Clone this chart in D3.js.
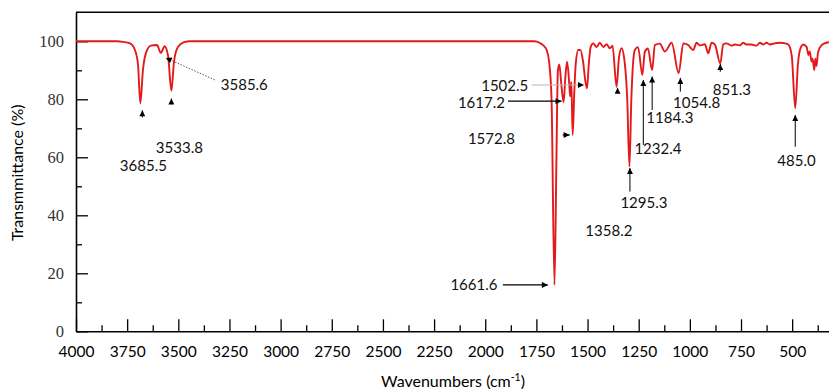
<!DOCTYPE html>
<html>
<head>
<meta charset="utf-8">
<script src="https://cdn.jsdelivr.net/npm/d3@7"></script>
<style>
  body { margin: 0; background: #fff; }
  svg { display: block; }
</style>
</head>
<body>
<svg id="chart" width="829" height="389"></svg>
<script>
// IR spectrum: wavenumber (cm-1) and transmittance (%)
const wavenumbers = [
  4000, 3800, 3770, 3736, 3712, 3697, 3685.5, 3673, 3658, 3634, 3604, 3585.6, 3567, 3550, 3533.8, 3521, 3502, 3472, 3443,
  1760, 1735, 1715, 1700, 1688, 1676, 1661.6, 1652, 1645, 1638, 1628, 1617.2, 1608, 1600, 1590, 1585, 1579, 1572.8,
  1565, 1558, 1545, 1535, 1522, 1510, 1502.5, 1494, 1485, 1472, 1456, 1440, 1423, 1407, 1391, 1378, 1358.2, 1347,
  1334, 1318, 1306, 1295.3, 1286, 1278, 1269, 1253, 1232.4, 1220, 1205, 1184.3, 1171, 1147, 1122, 1089, 1054.8,
  1032, 1008, 984, 967, 951, 927, 910, 894, 878, 851.3, 837, 821, 796, 780, 756, 740, 723, 699, 674, 658, 641,
  625, 609, 592, 560, 535, 519, 502, 485.0, 472, 462, 446, 429, 421, 414, 405, 400, 392, 387, 381, 374, 356, 332, 320
];
const transmittance = [
  100, 100, 99.8, 99.3, 97, 92, 78.6, 90, 96, 98.5, 98.7, 96, 98.3, 95, 83, 93, 98, 99.7, 100,
  100, 99.5, 98.5, 97, 93, 80, 16, 60, 90, 92, 85, 79, 88, 93, 86, 81, 86, 67.7,
  82, 92, 97, 97, 93, 86, 83.8, 92, 98, 99.3, 98, 99.5, 98, 99, 97.6, 98.5, 84.3, 94,
  97.6, 92.4, 80, 56.8, 80, 92, 97, 98, 88.4, 96.4, 97.5, 90.1, 98.7, 99.2, 96.5, 99.5, 89,
  99.3, 98.7, 97, 99.5, 98.6, 99, 95.9, 99.5, 98.9, 92.4, 98.9, 99.3, 98.5, 98.9, 98.6, 99.5, 98.9, 98.9, 98.5, 99.5, 98.9,
  99.5, 98.9, 99.2, 99.5, 99.3, 98.9, 95, 76.9, 92, 97, 98.9, 98, 95.3, 96.5, 93, 94, 90.1, 94, 91.5, 96, 98.7, 99.5, 99.7
];

// Axis ticks
const xTicks = [4000, 3750, 3500, 3250, 3000, 2750, 2500, 2250, 2000, 1750, 1500, 1250, 1000, 750, 500];
const xMinorTicks = [3875, 3625, 3375, 3125, 2875, 2625, 2375, 2125, 1875, 1625, 1375, 1125, 875, 625, 375];
const yTicks = [0, 20, 40, 60, 80, 100];
const yMinorTicks = [10, 30, 50, 70, 90];

// Labelled peaks (wavenumber, transmittance at the band minimum)
const peakWavenumbers = [3685.5, 3585.6, 3533.8, 1661.6, 1617.2, 1572.8, 1502.5, 1358.2, 1295.3, 1232.4, 1184.3, 1054.8, 851.3, 485.0];
const peakTransmittance = [78.6, 96, 83, 16, 79, 67.7, 83.8, 84.3, 56.8, 88.4, 90.1, 89, 92.4, 76.9];

// Callout layout, offsets in px from each band minimum
// kind: "up" = arrow from below, "left" = horizontal arrow from a label on the left, "lead" = dotted leader
const callouts = [
  { kind: "up",   ax: 2,  tip: 7,   tail: 14,  lx: 3,   ly: 68,  anchor: "middle" },
  { kind: "lead", x1: 54, y1: 27, x2: 5, y2: 5, lx: 60, ly: 37, anchor: "start" },
  { kind: "up",   ax: 0,  tip: 8,   tail: 13.5, lx: 8,  ly: 62.5, anchor: "middle" },
  { kind: "left", x1: -51.6, x2: -6.6, ay: 0,  lx: -57,  ly: 5,   anchor: "end", stroke: "#000" },
  { kind: "left", x1: -55.6, x2: -2,   ay: -1, lx: -58.6, ly: 6,  anchor: "end", stroke: "#000" },
  { kind: "left", x1: -10,   x2: -3,   ay: 0,  lx: -57.7, ly: 9,  anchor: "end", stroke: "#000" },
  { kind: "left", x1: -55.4, x2: -3.1, ay: -3.3, lx: -58.8, ly: 2.7, anchor: "end", stroke: "#b5b5b5" },
  { kind: "up",   ax: 1,  tip: 1,   tail: 6,   lx: -7.7, ly: 149, anchor: "middle" },
  { kind: "up",   ax: 0.5, tip: 1.5, tail: 25, lx: 14.5, ly: 41.4, anchor: "middle" },
  { kind: "up",   ax: 1,  tip: 5,   tail: 70,  lx: 15.6, ly: 79,  anchor: "middle" },
  { kind: "up",   ax: 0,  tip: 6.5, tail: 40,  lx: 17.7, ly: 52.8, anchor: "middle" },
  { kind: "up",   ax: 1.7, tip: 4.7, tail: 18.4, lx: 18, ly: 34.7, anchor: "middle" },
  { kind: "up",   ax: 0,  tip: 0.7, tail: 8.4, lx: 11.6, ly: 31.7, anchor: "middle" },
  { kind: "up",   ax: 0,  tip: 6.7, tail: 38.4, lx: 1.3, ly: 57.7, anchor: "middle" }
];

const svg = d3.select("#chart");
const plotLeft = 76, plotRight = 829, plotTop = 12.3, plotBottom = 331.3;

const x = d3.scaleLinear().domain([4000, 320]).range([plotLeft, plotRight]);
const y = d3.scaleLinear().domain([0, 110]).range([plotBottom, plotTop]);

const axisColor = "#000";
const axisWidth = 1.6;

// arrowhead marker
const defs = svg.append("defs");
defs.append("marker")
  .attr("id", "head")
  .attr("viewBox", "0 0 10 10")
  .attr("refX", 10).attr("refY", 5)
  .attr("markerWidth", 7).attr("markerHeight", 6)
  .attr("markerUnits", "userSpaceOnUse")
  .attr("orient", "auto")
  .append("path").attr("d", "M0,0 L10,5 L0,10 Z").attr("fill", "#000");

// x axis (ticks point into the plot)
const gx = svg.append("g").attr("transform", `translate(0,${plotBottom})`)
  .call(d3.axisBottom(x).tickValues(xTicks).tickSizeInner(-12).tickSizeOuter(0).tickPadding(15).tickFormat(d3.format("d")));
gx.select(".domain").attr("stroke", axisColor).attr("stroke-width", axisWidth);
gx.selectAll(".tick line").attr("stroke", axisColor).attr("stroke-width", 1.3);
gx.selectAll(".tick text")
  .attr("font-family", "Lato, 'Open Sans', sans-serif").attr("font-size", 15.5).attr("fill", "#000");

const gxm = svg.append("g").attr("transform", `translate(0,${plotBottom})`)
  .call(d3.axisBottom(x).tickValues(xMinorTicks).tickSizeInner(-6).tickSizeOuter(0).tickFormat(""));
gxm.select(".domain").remove();
gxm.selectAll(".tick line").attr("stroke", axisColor).attr("stroke-width", 1.3);

// y axis
const gy = svg.append("g").attr("transform", `translate(${plotLeft},0)`)
  .call(d3.axisLeft(y).tickValues(yTicks).tickSizeInner(-12).tickSizeOuter(0).tickPadding(12));
gy.select(".domain").attr("stroke", axisColor).attr("stroke-width", axisWidth);
gy.selectAll(".tick line").attr("stroke", axisColor).attr("stroke-width", 1.3);
gy.selectAll(".tick text")
  .attr("font-family", "'Liberation Serif', 'DejaVu Serif', serif").attr("font-size", 16.5).attr("fill", "#333");

const gym = svg.append("g").attr("transform", `translate(${plotLeft},0)`)
  .call(d3.axisLeft(y).tickValues(yMinorTicks).tickSizeInner(-6).tickSizeOuter(0).tickFormat(""));
gym.select(".domain").remove();
gym.selectAll(".tick line").attr("stroke", axisColor).attr("stroke-width", 1.3);

// top frame
svg.append("line")
  .attr("x1", plotLeft).attr("x2", plotRight).attr("y1", y(110)).attr("y2", y(110))
  .attr("stroke", axisColor).attr("stroke-width", axisWidth);

// spectrum
const spectrum = wavenumbers.map((w, i) => ({ w, t: transmittance[i] }));
const line = d3.line().x(d => x(d.w)).y(d => y(d.t)).curve(d3.curveMonotoneX);
svg.append("path")
  .datum(spectrum)
  .attr("d", line)
  .attr("fill", "none")
  .attr("stroke", "#e3191c")
  .attr("stroke-width", 1.9)
  .attr("stroke-linejoin", "round");

// peak callouts
const labelFont = "Lato, 'Open Sans', sans-serif";
peakWavenumbers.forEach((w, i) => {
  const c = callouts[i];
  const px = x(w), py = y(peakTransmittance[i]);
  const g = svg.append("g");
  if (c.kind === "up") {
    g.append("line")
      .attr("x1", px + c.ax).attr("x2", px + c.ax)
      .attr("y1", py + c.tail).attr("y2", py + c.tip)
      .attr("stroke", "#000").attr("stroke-width", 1)
      .attr("marker-end", "url(#head)");
  } else if (c.kind === "left") {
    g.append("line")
      .attr("x1", px + c.x1).attr("x2", px + c.x2)
      .attr("y1", py + c.ay).attr("y2", py + c.ay)
      .attr("stroke", c.stroke).attr("stroke-width", 1.2)
      .attr("marker-end", "url(#head)");
  } else {
    g.append("line")
      .attr("x1", px + c.x1).attr("y1", py + c.y1)
      .attr("x2", px + c.x2).attr("y2", py + c.y2)
      .attr("stroke", "#555").attr("stroke-width", 1)
      .attr("stroke-dasharray", "1.5,1.5")
      .attr("marker-end", "url(#head)");
  }
  g.append("text")
    .attr("x", px + c.lx).attr("y", py + c.ly)
    .attr("text-anchor", c.anchor)
    .attr("font-family", labelFont).attr("font-size", 15)
    .attr("fill", "#111")
    .text(d3.format(".1f")(w));
});

// axis titles
const xTitle = svg.append("text")
  .attr("x", 453).attr("y", 387)
  .attr("text-anchor", "middle")
  .attr("font-family", labelFont).attr("font-size", 16).attr("fill", "#000");
xTitle.append("tspan").text("Wavenumbers (cm");
xTitle.append("tspan").attr("dy", -6).attr("font-size", 10.5).text("-1");
xTitle.append("tspan").attr("dy", 6).text(")");

svg.append("text")
  .attr("transform", `translate(23,${(plotTop + plotBottom) / 2 + 1}) rotate(-90)`)
  .attr("text-anchor", "middle")
  .attr("font-family", labelFont).attr("font-size", 16).attr("fill", "#000")
  .text("Transmmittance (%)");
</script>
</body>
</html>
